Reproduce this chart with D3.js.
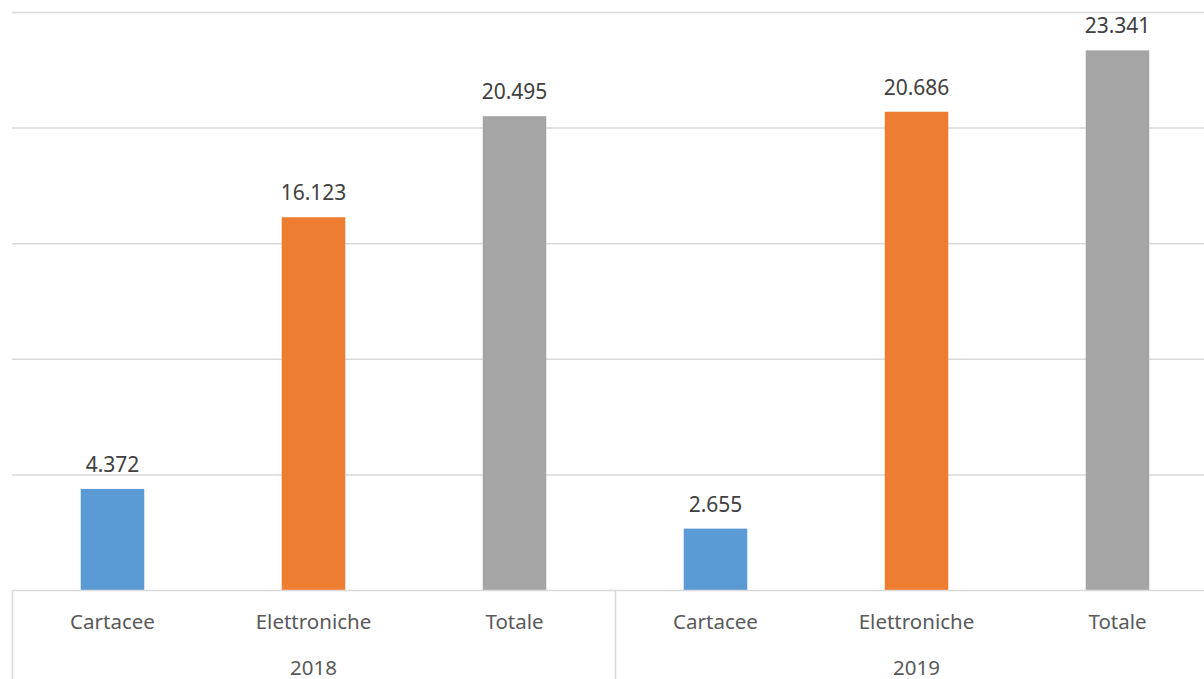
<!DOCTYPE html>
<html>
<head>
<meta charset="utf-8">
<script src="https://cdn.jsdelivr.net/npm/d3@7"></script>
<style>
  body { margin: 0; background: #fff; }
  text { font-family: 'Noto Sans', sans-serif; }
</style>
</head>
<body>
<div id="graph"></div>
<script>
'use strict'

const years = ['2018', '2019']
const categories = ['Cartacee', 'Elettroniche', 'Totale']
const values2018 = [4372, 16123, 20495]
const values2019 = [2655, 20686, 23341]
const colors = ['#5b9bd5', '#ed7d31', '#a5a5a5']
const yTicks = [0, 5000, 10000, 15000, 20000, 25000]

let rows = []
years.forEach((yr, i) => {
  let vals = i === 0 ? values2018 : values2019
  categories.forEach((c, j) => rows.push({ key: yr + '|' + c, year: yr, cat: c, value: vals[j], color: colors[j] }))
})

let cw = 1204, ch = 679
let margin = { top: 12, left: 12, bottom: 89 }
let plotRight = 1218
let height = ch - margin.top - margin.bottom

let svg = d3.select('#graph').append('svg')
  .attr('width', cw)
  .attr('height', ch)

let x = d3.scaleBand()
  .domain(rows.map(d => d.key))
  .range([margin.left, plotRight])
  .paddingInner(0.684)
  .paddingOuter(0.342)

let xYear = d3.scaleBand()
  .domain(years)
  .range([margin.left, plotRight])

let y = d3.scaleLinear()
  .domain([0, 25000])
  .range([margin.top + height, margin.top])

// gridlines
svg.append('g')
  .selectAll('line')
  .data(yTicks.slice(1))
  .join('line')
    .attr('x1', margin.left)
    .attr('x2', cw)
    .attr('y1', d => y(d) + 0.5)
    .attr('y2', d => y(d) + 0.5)
    .attr('stroke', '#d9d9d9')
    .attr('stroke-width', 1.5)

// bars
svg.append('g')
  .selectAll('rect')
  .data(rows)
  .join('rect')
    .attr('x', d => x(d.key))
    .attr('width', x.bandwidth())
    .attr('y', d => y(d.value))
    .attr('height', d => y(0) - y(d.value))
    .attr('fill', d => d.color)

// value labels
svg.append('g')
  .selectAll('text')
  .data(rows)
  .join('text')
    .attr('x', d => x(d.key) + x.bandwidth() / 2)
    .attr('y', d => y(d.value) - 17)
    .attr('text-anchor', 'middle')
    .attr('fill', '#404040')
    .style('font-size', '21px')
    .text(d => d3.format(',')(d.value).replace(',', '.'))

// axis line and group separators
svg.append('line')
  .attr('x1', margin.left)
  .attr('x2', cw)
  .attr('y1', y(0) + 0.5)
  .attr('y2', y(0) + 0.5)
  .attr('stroke', '#d9d9d9')
  .attr('stroke-width', 1.5)

svg.append('g')
  .selectAll('line')
  .data(years)
  .join('line')
    .attr('x1', d => xYear(d) + 0.5)
    .attr('x2', d => xYear(d) + 0.5)
    .attr('y1', y(0))
    .attr('y2', ch)
    .attr('stroke', '#d9d9d9')
    .attr('stroke-width', 1.5)

// category labels
svg.append('g')
  .selectAll('text')
  .data(rows)
  .join('text')
    .attr('x', d => x(d.key) + x.bandwidth() / 2)
    .attr('y', y(0) + 39)
    .attr('text-anchor', 'middle')
    .attr('fill', '#595959')
    .style('font-size', '20.5px')
    .text(d => d.cat)

// year labels
svg.append('g')
  .selectAll('text')
  .data(years)
  .join('text')
    .attr('x', d => xYear(d) + xYear.bandwidth() / 2)
    .attr('y', y(0) + 85)
    .attr('text-anchor', 'middle')
    .attr('fill', '#595959')
    .style('font-size', '20.5px')
    .text(d => d)
</script>
</body>
</html>
